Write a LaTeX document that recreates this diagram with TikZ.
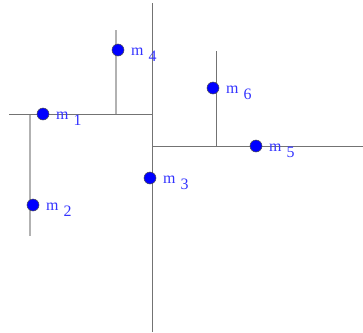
\documentclass[tikz,border=0pt]{standalone}
\usepackage{fontspec}
\setmainfont{Liberation Serif}
\begin{document}
\begin{tikzpicture}[x=1bp,y=-1bp,
  dark/.style={draw=black!55,line width=0.9bp},
  light/.style={draw=black!30,line width=1.6bp},
  pt/.style={circle,fill=blue,draw=black!70,line width=0.5bp,minimum size=12bp,inner sep=0pt},
  lbl/.style={anchor=base west,inner sep=0pt,text=blue!80!white}]
\useasboundingbox (0,0) rectangle (363,333);
\newcommand{\mlab}[1]{{\fontsize{16}{16}\selectfont m}\hspace{5bp}\raisebox{-6bp}{\fontsize{16}{16}\selectfont #1}}
% partition lines
\coordinate (vTop) at (152,3);
\coordinate (vBot) at (152,332);
\coordinate (hL) at (9,114);
\coordinate (hLe) at (152,114);
\coordinate (hR) at (152,146);
\coordinate (hRe) at (363,146);
\coordinate (aT) at (30,114);
\coordinate (aB) at (30,236);
\coordinate (bT) at (116,30);
\coordinate (bB) at (116,114);
\coordinate (cT) at (216,51);
\coordinate (cB) at (216,146);
\draw[light] (aT) -- (aB);
\draw[light] (bT) -- (bB);
\draw[dark] (vTop) -- (vBot);
\draw[dark] (hL) -- (hLe);
\draw[dark] (hR) -- (hRe);
\draw[dark] (cT) -- (cB);
% points
\node[pt] (m1) at (43,114) {};
\node[pt] (m2) at (33,205) {};
\node[pt] (m3) at (150,178) {};
\node[pt] (m4) at (118,50) {};
\node[pt] (m5) at (256,146) {};
\node[pt] (m6) at (213,88) {};
% labels
\node[lbl] (l1) at ([xshift=13bp,yshift=-5bp]m1.center) {\mlab{1}};
\node[lbl] (l2) at ([xshift=13bp,yshift=-5bp]m2.center) {\mlab{2}};
\node[lbl] (l3) at ([xshift=13bp,yshift=-5bp]m3.center) {\mlab{3}};
\node[lbl] (l4) at ([xshift=13bp,yshift=-5bp]m4.center) {\mlab{4}};
\node[lbl] (l5) at ([xshift=13bp,yshift=-5bp]m5.center) {\mlab{5}};
\node[lbl] (l6) at ([xshift=13bp,yshift=-5bp]m6.center) {\mlab{6}};
\end{tikzpicture}
\end{document}
